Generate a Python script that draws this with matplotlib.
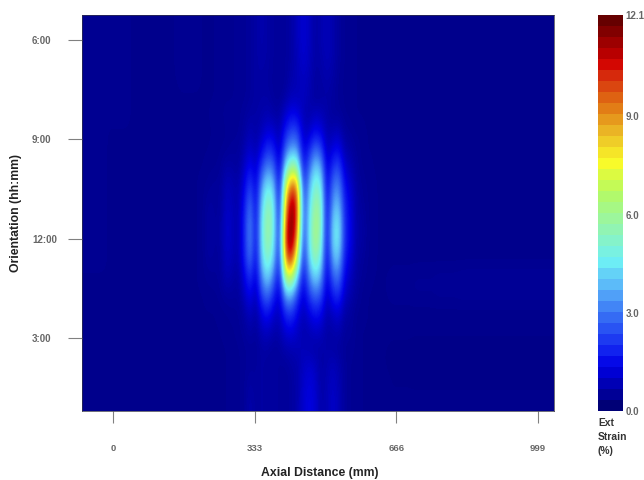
"""Extensional strain map, axial distance against pipe orientation."""

import matplotlib

matplotlib.use("Agg")

from matplotlib.colors import LinearSegmentedColormap
import matplotlib.pyplot as plt
import numpy as np

plt.rcParams["font.family"] = ["Liberation Sans", "DejaVu Sans"]

X_TICKS = [0, 333, 666, 999]
Y_TICKS = [6, 9, 12, 15]
Y_TICK_LABELS = ["6:00", "9:00", "12:00", "3:00"]
CBAR_TICKS = [0.0, 3.0, 6.0, 9.0, 12.1]
CBAR_LABELS = ["0.0", "3.0", "6.0", "9.0", "12.1"]
STRAIN_MAX = 12.1

# colour bar, (fraction of scale, colour)
CBAR_COLORS = [
    (0.00, "#000069"), (0.11, "#0000e6"), (0.16, "#1428f0"), (0.25, "#3c78f5"),
    (0.31, "#5ab4fa"), (0.38, "#6ef0f5"), (0.47, "#96f5aa"), (0.55, "#b4fa64"),
    (0.63, "#fafa28"), (0.70, "#ebbe28"), (0.77, "#e17814"), (0.84, "#d7320f"),
    (0.88, "#d20000"), (0.94, "#960000"), (1.00, "#5a0000"),
]

# coarse background, each cell covers 2 rows x 4 columns of the final grid
background = np.array([
    [.46, .44, .42, .42, .44, .46, .46, .46, .46, .46, .46, .44, .42, .40, .40, .40, .38, .38, .40, .40],
    [.46, .44, .42, .42, .44, .46, .46, .46, .46, .46, .46, .44, .42, .40, .38, .38, .38, .38, .40, .40],
    [.46, .44, .42, .40, .42, .46, .46, .46, .46, .46, .46, .42, .40, .38, .38, .38, .38, .38, .38, .40],
    [.44, .42, .42, .40, .42, .46, .46, .46, .46, .46, .46, .42, .40, .38, .38, .38, .38, .38, .38, .38],
    [.44, .42, .40, .40, .42, .46, .46, .46, .46, .46, .46, .42, .40, .38, .38, .38, .38, .38, .38, .38],
    [.44, .42, .40, .40, .42, .44, .46, .46, .46, .46, .46, .42, .40, .38, .38, .38, .38, .38, .38, .38],
    [.44, .42, .40, .40, .42, .44, .46, .46, .46, .46, .46, .42, .40, .40, .40, .40, .40, .40, .40, .40],
    [.42, .42, .40, .40, .42, .44, .46, .46, .46, .46, .46, .42, .42, .46, .48, .50, .52, .52, .52, .52],
    [.42, .42, .40, .40, .42, .44, .46, .46, .46, .46, .46, .42, .40, .40, .40, .40, .40, .40, .40, .40],
    [.42, .42, .40, .40, .42, .44, .46, .46, .46, .46, .46, .42, .38, .36, .34, .34, .34, .34, .34, .34],
    [.42, .42, .40, .40, .42, .44, .46, .46, .46, .46, .46, .42, .40, .38, .38, .38, .38, .38, .38, .38],
])

# finer readings around the strain peak, final-grid rows, columns 20 to 49
peak_block = np.array([
    [.42, .42, .42, .46, .46, .46, .50, .50, .55, .65, .75, .65, .55, .55, .55, .65, .90, 1.15, .95, .65, .75, .90, .75, .55, .46, .46, .42, .42, .40, .40],
    [.42, .42, .42, .46, .46, .46, .50, .50, .55, .65, .75, .65, .55, .55, .55, .65, .90, 1.15, .95, .65, .75, .90, .75, .55, .46, .46, .42, .42, .40, .40],
    [.42, .42, .42, .46, .46, .46, .50, .50, .55, .65, .70, .65, .55, .55, .55, .65, .85, 1.1, .90, .65, .70, .85, .75, .55, .46, .46, .42, .42, .40, .40],
    [.42, .42, .42, .46, .46, .46, .50, .50, .55, .65, .65, .60, .55, .50, .55, .75, .85, .95, .85, .60, .65, .75, .65, .50, .46, .46, .42, .42, .40, .40],
    [.42, .42, .42, .46, .46, .46, .50, .50, .55, .65, .65, .65, .55, .50, .65, .85, .85, .95, .80, .55, .60, .65, .60, .50, .46, .46, .42, .42, .40, .40],
    [.42, .42, .46, .46, .50, .50, .50, .55, .65, .65, .70, .80, .65, .65, 1.05, 1.4, 1.3, .85, .70, .90, .85, .70, .55, .55, .46, .46, .42, .42, .40, .40],
    [.42, .42, .42, .46, .46, .50, .50, .60, .85, .65, .90, 1.2, 1.1, .75, 1.8, 2.4, 2.3, .95, 1.0, 1.5, 1.3, .75, .80, .90, .55, .50, .46, .46, .42, .40],
    [.42, .42, .46, .46, .50, .55, .55, .75, 1.1, .75, 1.4, 2.1, 1.8, .85, 2.8, 3.6, 3.5, 1.2, 1.8, 2.9, 2.4, .85, 1.3, 1.5, .75, .65, .50, .46, .42, .42],
    [.42, .46, .46, .50, .70, .65, .55, 1.0, 1.6, 1.0, 2.4, 3.3, 2.8, 1.05, 4.6, 6.2, 5.8, 1.5, 2.8, 4.3, 3.8, 1.05, 2.1, 2.5, 1.1, .85, .55, .46, .46, .42],
    [.46, .50, .55, .55, .90, .80, .70, 1.3, 2.4, 1.15, 3.5, 4.7, 4.0, 1.15, 7.0, 9.7, 9.0, 1.9, 3.6, 5.3, 4.8, 1.15, 2.9, 3.3, 1.5, 1.1, .65, .50, .46, .46],
    [.46, .60, .55, .55, 1.0, .85, .70, 1.6, 3.0, 1.25, 4.2, 5.6, 4.7, 1.25, 8.6, 11.6, 10.2, 2.1, 4.1, 6.0, 5.4, 1.25, 3.5, 4.0, 1.8, 1.3, .65, .55, .46, .46],
    [.46, .65, .55, .60, 1.1, .90, .70, 1.8, 3.4, 1.35, 4.6, 6.0, 4.9, 1.35, 9.6, 12.1, 9.9, 2.1, 4.4, 6.4, 5.6, 1.25, 4.1, 4.7, 1.9, 1.4, .65, .65, .46, .46],
    [.46, .65, .55, .60, 1.1, .90, .70, 1.8, 3.4, 1.35, 4.6, 6.0, 4.6, 1.55, 10.4, 12.0, 8.7, 1.9, 4.5, 6.4, 5.3, 1.25, 4.3, 4.8, 1.9, 1.4, .65, .65, .46, .46],
    [.46, .60, .55, .55, 1.0, .85, .70, 1.7, 3.1, 1.25, 4.3, 5.5, 4.1, 1.55, 9.4, 10.5, 6.8, 1.7, 4.1, 5.8, 4.7, 1.15, 3.7, 4.1, 1.7, 1.2, .65, .55, .46, .46],
    [.46, .50, .50, .55, .85, .70, .60, 1.3, 2.2, 1.05, 3.4, 4.4, 3.0, 1.35, 6.8, 7.2, 4.3, 1.35, 3.2, 4.4, 3.7, 1.05, 2.7, 3.1, 1.3, .95, .60, .50, .46, .42],
    [.42, .46, .46, .50, .60, .60, .55, .95, 1.5, .80, 2.4, 3.0, 1.9, 1.05, 3.8, 3.9, 2.4, 1.05, 2.2, 2.9, 2.5, .90, 1.8, 2.1, 1.0, .75, .55, .46, .42, .42],
    [.42, .42, .42, .46, .46, .50, .50, .65, 1.0, .60, 1.4, 1.7, 1.1, .90, 2.0, 2.2, 1.4, .85, 1.3, 1.7, 1.5, .75, 1.0, 1.2, .65, .60, .46, .46, .42, .42],
    [.42, .42, .42, .42, .46, .46, .50, .55, .70, .55, .90, 1.0, .75, .75, 1.2, 1.3, 1.0, .75, .85, 1.0, .95, .65, .70, .80, .55, .55, .46, .42, .42, .42],
    [.42, .42, .42, .42, .42, .46, .46, .50, .55, .50, .65, .65, .55, .60, .75, .80, .85, .85, .75, .70, .70, .70, .65, .60, .50, .50, .46, .42, .42, .42],
    [.42, .42, .42, .42, .42, .46, .46, .50, .55, .55, .65, .55, .60, .55, .55, .65, .70, .95, 1.1, .95, .65, .75, .90, .75, .55, .46, .46, .42, .42, .42],
    [.42, .42, .42, .42, .42, .46, .46, .50, .65, .55, .65, .55, .60, .55, .50, .60, .70, 1.05, 1.25, 1.1, .65, .80, 1.0, .80, .55, .46, .46, .42, .42, .42],
    [.42, .42, .42, .42, .42, .46, .46, .50, .75, .55, .65, .55, .60, .55, .50, .60, .70, 1.1, 1.3, 1.15, .70, .80, 1.05, .85, .55, .46, .46, .42, .42, .42],
])

strain = np.repeat(np.repeat(background, 2, axis=0), 4, axis=1)
strain[:, 20:50] = peak_block

cmap = LinearSegmentedColormap.from_list("strain", CBAR_COLORS, N=256)

fig = plt.figure(figsize=(6.44, 4.80), dpi=100)
W, H = 644, 480


def px_axes(x0, y0, x1, y1):
    return fig.add_axes([x0 / W, 1 - y1 / H, (x1 - x0) / W, (y1 - y0) / H])


ax = px_axes(82, 15, 554, 411)
ax.imshow(
    strain,
    extent=(-73, 1037, 17.2, 5.245),
    aspect="auto",
    cmap=cmap,
    vmin=0,
    vmax=STRAIN_MAX,
    interpolation="bicubic",
    interpolation_stage="data",
)
ax.set_xticks(X_TICKS, [str(t) for t in X_TICKS])
ax.set_yticks(Y_TICKS, Y_TICK_LABELS)
ax.tick_params(axis="x", length=8.5, width=0.8, color="#808080", labelcolor="#666666",
               labelsize=6.8, pad=15)
ax.tick_params(axis="y", length=10, width=0.8, color="#808080", labelcolor="#666666",
               labelsize=7, pad=26)
for label in ax.get_xticklabels() + ax.get_yticklabels():
    label.set_fontweight("bold")
for label in ax.get_yticklabels():
    label.set_ha("left")
for spine in ax.spines.values():
    spine.set_linewidth(0.5)
    spine.set_color("#333344")

fig.text(320 / W, 1 - 473 / H, "Axial Distance (mm)", ha="center", va="center",
         fontsize=8.8, fontweight="bold", color="#222222")
fig.text(16 / W, 1 - 213 / H, "Orientation (hh:mm)", ha="center", va="center",
         rotation=90, fontsize=8.8, fontweight="bold", color="#222222")

cax = px_axes(598, 15, 623, 411)
levels = np.linspace(0, STRAIN_MAX, 37)
cax.pcolormesh([0, 1], levels, ((levels[:-1] + levels[1:]) / 2)[:, None], cmap=cmap,
               vmin=0, vmax=STRAIN_MAX)
cax.set_xticks([])
cax.set_yticks(CBAR_TICKS, CBAR_LABELS)
cax.yaxis.tick_right()
cax.tick_params(axis="y", length=0, pad=2, labelsize=7, labelcolor="#666666")
for label in cax.get_yticklabels():
    label.set_fontweight("bold")
for spine in cax.spines.values():
    spine.set_visible(False)

for y, label in zip([423, 437, 451], ["Ext", "Strain", "(%)"]):
    fig.text(598 / W, 1 - y / H, label, ha="left", va="center", fontsize=7.4,
             fontweight="bold", color="#333333")

fig.savefig("out.png", dpi=100)
